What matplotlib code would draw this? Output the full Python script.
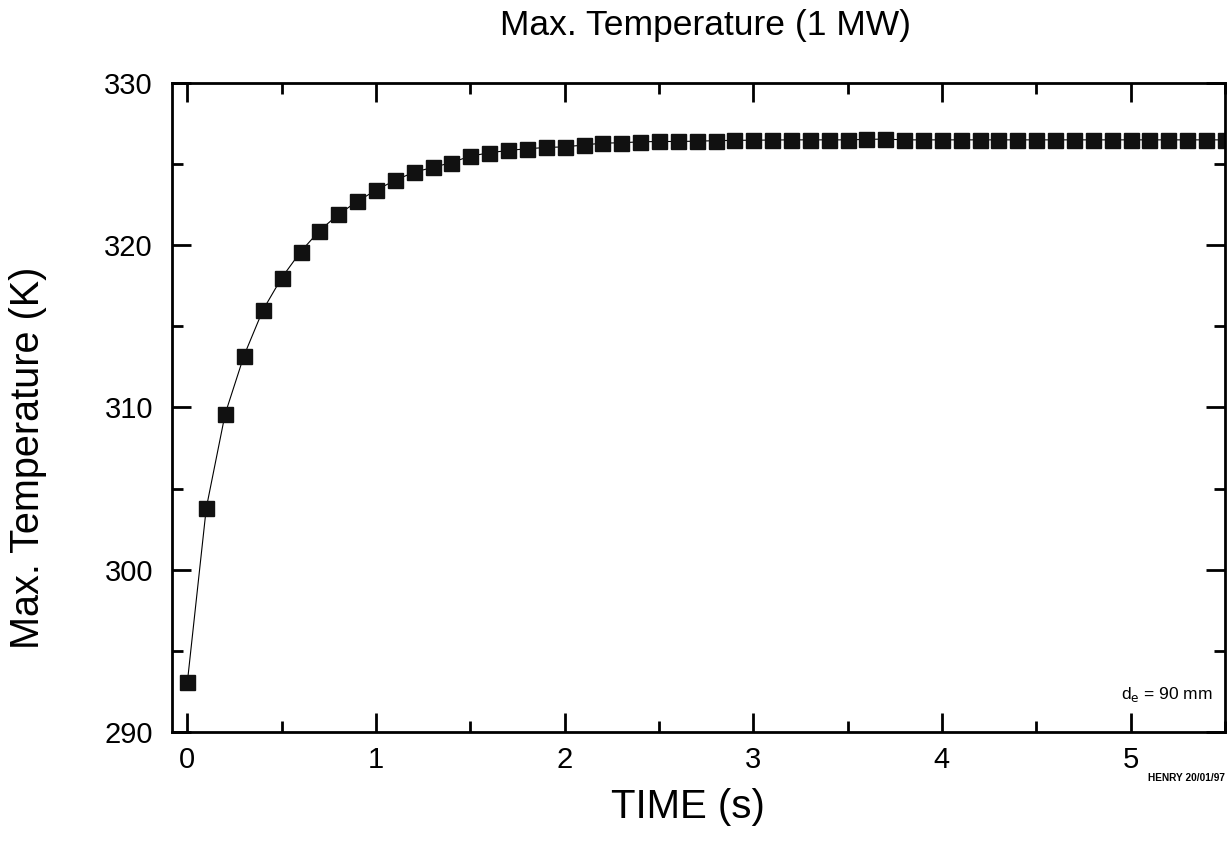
import matplotlib
matplotlib.use("Agg")
import matplotlib.pyplot as plt
from matplotlib.ticker import MultipleLocator

plt.rcParams['font.family'] = ['Liberation Sans', 'DejaVu Sans']

# time (s)
time = [0.0, 0.1, 0.2, 0.3, 0.4, 0.5, 0.6, 0.7, 0.8, 0.9,
        1.0, 1.1, 1.2, 1.3, 1.4, 1.5, 1.6, 1.7, 1.8, 1.9,
        2.0, 2.1, 2.2, 2.3, 2.4, 2.5, 2.6, 2.7, 2.8, 2.9,
        3.0, 3.1, 3.2, 3.3, 3.4, 3.5, 3.6, 3.7, 3.8, 3.9,
        4.0, 4.1, 4.2, 4.3, 4.4, 4.5, 4.6, 4.7, 4.8, 4.9,
        5.0, 5.1, 5.2, 5.3, 5.4, 5.5]
# max temperature (K)
tmax = [293.1, 303.8, 309.6, 313.2, 316.0, 318.0, 319.6, 320.9, 321.9, 322.7,
        323.4, 324.0, 324.5, 324.8, 325.1, 325.5, 325.7, 325.85, 325.95, 326.03,
        326.07, 326.18, 326.3, 326.32, 326.38, 326.4, 326.4, 326.42, 326.45, 326.47,
        326.48, 326.49, 326.5, 326.5, 326.5, 326.5, 326.53, 326.55, 326.5, 326.5,
        326.5, 326.5, 326.5, 326.5, 326.5, 326.5, 326.5, 326.5, 326.5, 326.5,
        326.5, 326.5, 326.5, 326.5, 326.5, 326.5]

fig = plt.figure(figsize=(12.31, 8.48), dpi=100)
ax = fig.add_axes([0.140, 0.137, 0.855, 0.765])

ax.plot(time, tmax, color='black', lw=0.8, marker='s', ms=10.8,
        mfc='#111111', mec='#111111')

ax.set_xlim(-0.08, 5.5)
ax.set_ylim(290, 330)
ax.xaxis.set_major_locator(MultipleLocator(1))
ax.xaxis.set_minor_locator(MultipleLocator(0.5))
ax.yaxis.set_major_locator(MultipleLocator(10))
ax.yaxis.set_minor_locator(MultipleLocator(5))
ax.tick_params(which='both', direction='in', top=True, right=True,
               labelsize=21, width=2, color='black')
ax.tick_params(which='major', length=14)
ax.tick_params(which='minor', length=8)
ax.tick_params(axis='x', which='major', pad=10)
ax.tick_params(axis='y', which='major', pad=14)
for s in ax.spines.values():
    s.set_linewidth(2)

fig.text(688 / 1231, 1 - 818 / 848, 'TIME (s)', fontsize=29,
         ha='center', va='baseline')
fig.text(28 / 1231, 1 - 458 / 848, 'Max. Temperature (K)', fontsize=28.5,
         rotation=90, ha='center', va='center')
fig.text(705 / 1231, 1 - 25 / 848, 'Max. Temperature (1 MW)', fontsize=25.5,
         ha='center', va='center')

ax.text(0.988, 0.057, r'd$_{\mathrm{e}}$ = 90 mm', transform=ax.transAxes,
        fontsize=12.5, ha='right', va='center')
fig.text(0.995, 1 - 778 / 848, 'HENRY 20/01/97', fontsize=7.3,
         fontweight='bold', ha='right', va='center')

fig.savefig('out.png', dpi=100)
